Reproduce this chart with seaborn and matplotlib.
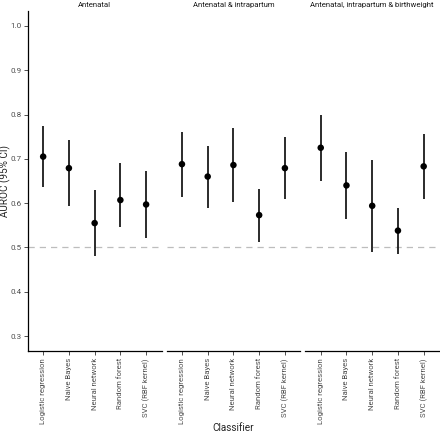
import numpy as np
import pandas as pd
import seaborn as sns
import matplotlib.pyplot as plt

classifiers = ["Logistic regression", "Naive Bayes", "Neural network",
               "Random forest", "SVC (RBF kernel)"]
feature_sets = ["Antenatal", "Antenatal & intrapartum",
                "Antenatal, intrapartum & birthweight"]

auroc_antenatal = [0.705, 0.679, 0.555, 0.607, 0.597]
lower_antenatal = [0.636, 0.594, 0.481, 0.547, 0.521]
upper_antenatal = [0.773, 0.743, 0.630, 0.690, 0.673]

auroc_intrapartum = [0.688, 0.660, 0.686, 0.573, 0.679]
lower_intrapartum = [0.615, 0.589, 0.602, 0.513, 0.609]
upper_intrapartum = [0.761, 0.730, 0.770, 0.633, 0.749]

auroc_birthweight = [0.725, 0.640, 0.594, 0.538, 0.683]
lower_birthweight = [0.650, 0.564, 0.489, 0.485, 0.609]
upper_birthweight = [0.799, 0.716, 0.698, 0.590, 0.755]

df = pd.DataFrame({
    "features": np.repeat(feature_sets, len(classifiers)),
    "classifier": classifiers * 3,
    "auroc": auroc_antenatal + auroc_intrapartum + auroc_birthweight,
    "lower": lower_antenatal + lower_intrapartum + lower_birthweight,
    "upper": upper_antenatal + upper_intrapartum + upper_birthweight,
})

sns.set_style("white")
plt.rcParams["font.family"] = ["Roboto", "DejaVu Sans"]


def draw_ci(data, **kws):
    ax = plt.gca()
    ax.axhline(0.5, color="#bdbdbd", lw=0.9, ls=(0, (5, 4)), zorder=0)
    ax.vlines(data["classifier"], data["lower"], data["upper"],
              color="#1a1a1a", lw=1.3, zorder=2)
    sns.scatterplot(data=data, x="classifier", y="auroc", color="black",
                    s=22, edgecolor="none", zorder=3, ax=ax)


g = sns.FacetGrid(df, col="features", col_order=feature_sets, sharey=True,
                  despine=False)
g.map_dataframe(draw_ci)
g.figure.set_size_inches(4.4, 4.33)
g.figure.subplots_adjust(left=0.063, right=0.998, top=0.975, bottom=0.189,
                         wspace=0.037)

for i, (ax, title) in enumerate(zip(g.axes.flat, feature_sets)):
    ax.set_title(title, fontsize=5.6, color="#1a1a1a", pad=3)
    ax.set_xlim(-0.6, 4.6)
    ax.set_ylim(0.266, 1.034)
    ax.set_yticks([0.3, 0.4, 0.5, 0.6, 0.7, 0.8, 0.9, 1.0])
    ax.set_yticklabels(["0.3", "0.4", "0.5", "0.6", "0.7", "0.8", "0.9", "1.0"])
    ax.tick_params(axis="x", rotation=90, labelsize=5.6, labelcolor="#4d4d4d",
                   length=3, width=0.6, color="#333333", pad=2, bottom=True)
    ax.tick_params(axis="y", labelsize=5.8, labelcolor="#4d4d4d",
                   length=3, width=0.6, color="#333333", pad=1.5, left=(i == 0))
    for side in ["top", "right"]:
        ax.spines[side].set_visible(False)
    ax.spines["bottom"].set_linewidth(0.9)
    ax.spines["bottom"].set_color("black")
    if i == 0:
        ax.spines["left"].set_linewidth(0.9)
        ax.spines["left"].set_color("black")
        ax.set_ylabel("AUROC (95% CI)", fontsize=7.2)
        ax.yaxis.set_label_coords(-0.126, 0.5)
    else:
        ax.spines["left"].set_visible(False)
        ax.set_ylabel("")
    if i == 1:
        ax.set_xlabel("Classifier", fontsize=7.2)
        ax.xaxis.set_label_coords(0.5, -0.212)
    else:
        ax.set_xlabel("")

g.figure.savefig("out.png", dpi=100)
plt.close()
